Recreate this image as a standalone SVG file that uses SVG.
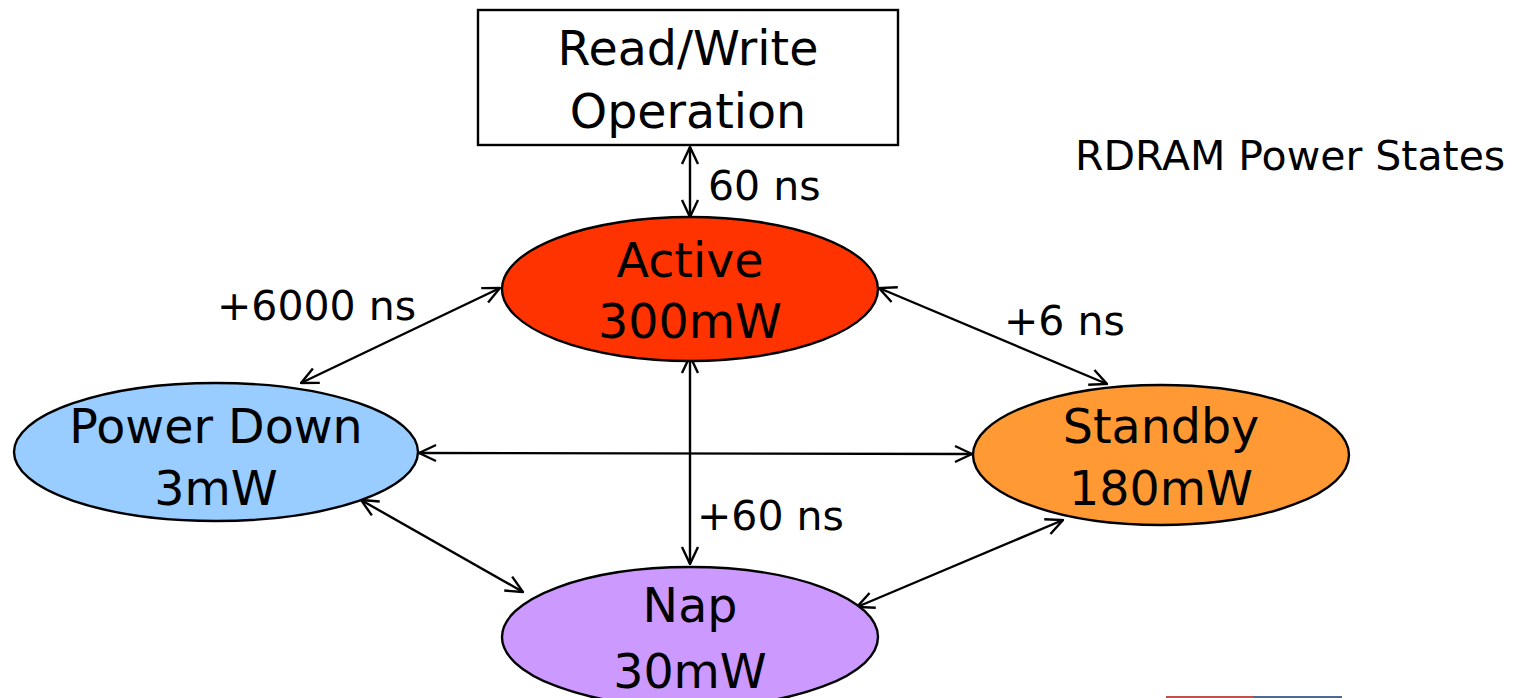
<svg xmlns="http://www.w3.org/2000/svg" width="1532" height="698" viewBox="0 0 1532 698">
  <defs>
    <!-- open V arrowhead, used at both ends of every connector -->
    <marker id="arrow" viewBox="0 0 20 20" refX="19" refY="10" markerWidth="20" markerHeight="20" markerUnits="userSpaceOnUse" orient="auto-start-reverse">
      <path d="M2,2 L19,10 L2,18" fill="none" stroke="#000" stroke-width="2.4"/>
    </marker>
  </defs>
  <style>
    .node { stroke: #000; stroke-width: 2.4; }
    .txt { font-family: "DejaVu Sans", Verdana, sans-serif; font-size: 47.5px; fill: #000; text-anchor: middle; }
    .lbl { font-family: "DejaVu Sans", Verdana, sans-serif; font-size: 41px; fill: #000; }
    .conn { stroke: #000; stroke-width: 2.4; fill: none; marker-start: url(#arrow); marker-end: url(#arrow); }
  </style>
  <rect width="1532" height="698" fill="#fff"/>

  <g id="connectors">
    <line class="conn" x1="690" y1="147" x2="690" y2="217"/>
    <line class="conn" x1="500" y1="288" x2="301" y2="383"/>
    <line class="conn" x1="879" y1="288" x2="1107" y2="384"/>
    <line class="conn" x1="690" y1="356" x2="690" y2="564"/>
    <line class="conn" x1="419" y1="453" x2="972" y2="454"/>
    <line class="conn" x1="361" y1="500" x2="523" y2="592"/>
    <line class="conn" x1="1063" y1="520" x2="857" y2="607"/>
  </g>

  <g id="read-write">
    <rect class="node" x="478" y="10" width="420" height="135" fill="#fff"/>
    <text class="txt" x="688" y="65">Read/Write</text>
    <text class="txt" x="688" y="128">Operation</text>
  </g>

  <g id="active">
    <ellipse class="node" cx="690" cy="289" rx="188" ry="72" fill="#FF3300"/>
    <text class="txt" x="690" y="277">Active</text>
    <text class="txt" x="690" y="338">300mW</text>
  </g>

  <g id="power-down">
    <ellipse class="node" cx="216" cy="452" rx="202" ry="69" fill="#99CCFF"/>
    <text class="txt" x="216" y="443">Power Down</text>
    <text class="txt" x="216" y="505">3mW</text>
  </g>

  <g id="standby">
    <ellipse class="node" cx="1161" cy="455" rx="188" ry="70" fill="#FF9933"/>
    <text class="txt" x="1161" y="443">Standby</text>
    <text class="txt" x="1161" y="505">180mW</text>
  </g>

  <g id="nap">
    <ellipse class="node" cx="690" cy="637" rx="188" ry="70" fill="#CC99FF"/>
    <text class="txt" x="690" y="622">Nap</text>
    <text class="txt" x="690" y="688">30mW</text>
  </g>

  <g id="labels">
    <text class="lbl" x="708" y="200">60 ns</text>
    <text class="lbl" x="217" y="320">+6000 ns</text>
    <text class="lbl" x="1004" y="335">+6 ns</text>
    <text class="lbl" x="697" y="530">+60 ns</text>
    <text class="lbl" x="1075" y="170">RDRAM Power States</text>
  </g>

  <g id="footer-bar">
    <rect x="1166" y="696" width="87" height="2" fill="#C0504D"/>
    <rect x="1253" y="696" width="89" height="2" fill="#4F6A8F"/>
  </g>
</svg>
